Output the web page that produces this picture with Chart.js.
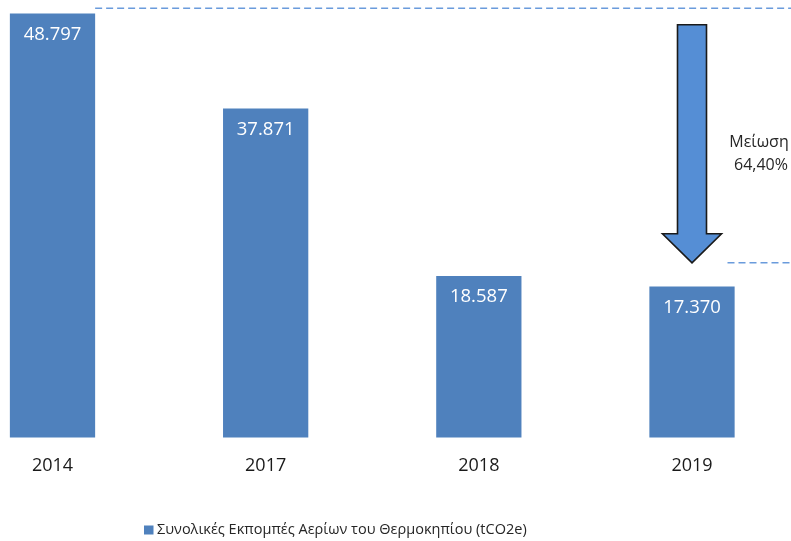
<!DOCTYPE html>
<html>
<head>
<meta charset="utf-8">
<script src="https://cdn.jsdelivr.net/npm/chart.js@4"></script>
<style>
  html, body { margin: 0; padding: 0; background: #ffffff; }
  #wrap { width: 791px; height: 541px; position: relative; }
</style>
</head>
<body>
<div id="wrap"><canvas id="c" width="791" height="541"></canvas></div>
<script>
// ---- data ----
const categories = ['2014', '2017', '2018', '2019'];
const emissions = [48797, 37871, 18587, 17370];
const seriesLabel = 'Συνολικές Εκπομπές Αερίων του Θερμοκηπίου (tCO2e)';
const reductionText = ['Μείωση', '64,40%'];
const baselineLevel = 49400;   // dashed reference line (2014 level)
const arrowStartLevel = 47500; // top of reduction arrow
const targetLevel = 20100;     // dashed reference line (2019 level)
const yMax = 50000;

const BAR_COLOR = '#4F81BD';
const FONT = '"Open Sans", "Noto Sans", sans-serif';

function fmt(v) {
  return String(v).replace(/\B(?=(\d{3})+(?!\d))/g, '.');
}

const annotationPlugin = {
  id: 'annotations',
  afterDatasetsDraw(chart) {
    const ctx = chart.ctx;
    const meta = chart.getDatasetMeta(0);
    const y = chart.scales.y;
    // value labels inside bars
    ctx.save();
    ctx.fillStyle = '#ffffff';
    ctx.font = '18.5px ' + FONT;
    ctx.textAlign = 'center';
    ctx.textBaseline = 'middle';
    meta.data.forEach((bar, i) => {
      ctx.fillText(fmt(emissions[i]), bar.x, bar.y + 21);
    });
    ctx.restore();

    // dashed reference lines
    const first = meta.data[0];
    const last = meta.data[meta.data.length - 1];
    const yTop = y.getPixelForValue(baselineLevel);
    const yTip = y.getPixelForValue(targetLevel);
    const yStart = y.getPixelForValue(arrowStartLevel);
    const ax = last.x;
    const shaftHalf = 14.5, headHalf = 29.5, headLen = 29;

    ctx.save();
    ctx.strokeStyle = '#6A9BDC';
    ctx.lineWidth = 1.6;
    ctx.setLineDash([7, 4]);
    ctx.beginPath();
    ctx.moveTo(first.x + first.width / 2, yTop);
    ctx.lineTo(chart.width, yTop);
    ctx.moveTo(ax + headHalf + 6, yTip);
    ctx.lineTo(chart.width, yTip);
    ctx.stroke();
    ctx.restore();

    // reduction arrow
    ctx.save();
    ctx.beginPath();
    ctx.moveTo(ax - shaftHalf, yStart);
    ctx.lineTo(ax + shaftHalf, yStart);
    ctx.lineTo(ax + shaftHalf, yTip - headLen);
    ctx.lineTo(ax + headHalf, yTip - headLen);
    ctx.lineTo(ax, yTip);
    ctx.lineTo(ax - headHalf, yTip - headLen);
    ctx.lineTo(ax - shaftHalf, yTip - headLen);
    ctx.closePath();
    ctx.fillStyle = '#558ED5';
    ctx.fill();
    ctx.lineWidth = 1.6;
    ctx.strokeStyle = '#1a1a1a';
    ctx.lineJoin = 'miter';
    ctx.stroke();
    ctx.restore();

    // reduction text
    const mid = (yStart + yTip) / 2;
    ctx.save();
    ctx.fillStyle = '#262626';
    ctx.font = '16px ' + FONT;
    ctx.textAlign = 'center';
    ctx.textBaseline = 'alphabetic';
    ctx.fillText(reductionText[0], ax + 67, mid + 3);
    ctx.fillText(reductionText[1], ax + 69, mid + 26);
    ctx.restore();
  },
  afterDraw(chart) {
    // legend
    const ctx = chart.ctx;
    const ds = chart.data.datasets[0];
    ctx.save();
    ctx.fillStyle = ds.backgroundColor;
    ctx.fillRect(144, 525.5, 9.5, 9);
    ctx.fillStyle = '#262626';
    ctx.font = '14.5px ' + FONT;
    ctx.textAlign = 'left';
    ctx.textBaseline = 'middle';
    ctx.fillText(ds.label, 157, 530);
    ctx.restore();
  }
};

new Chart(document.getElementById('c'), {
  type: 'bar',
  data: {
    labels: categories,
    datasets: [{
      label: seriesLabel,
      data: emissions,
      backgroundColor: BAR_COLOR,
      borderWidth: 0,
      categoryPercentage: 0.8,
      barPercentage: 0.5,
      clip: false
    }]
  },
  options: {
    responsive: false,
    animation: false,
    devicePixelRatio: 1,
    layout: { padding: { left: 52.5, right: 99, top: 3, bottom: 46 } },
    plugins: {
      legend: { display: false },
      tooltip: { enabled: false }
    },
    scales: {
      x: {
        offset: false,
        grid: { display: false, drawTicks: false },
        border: { display: false },
        ticks: { color: '#1a1a1a', font: { size: 18, family: FONT }, padding: 18, maxRotation: 0, autoSkip: false }
      },
      y: {
        display: false,
        min: 0,
        max: yMax
      }
    }
  },
  plugins: [annotationPlugin]
});
</script>
</body>
</html>
